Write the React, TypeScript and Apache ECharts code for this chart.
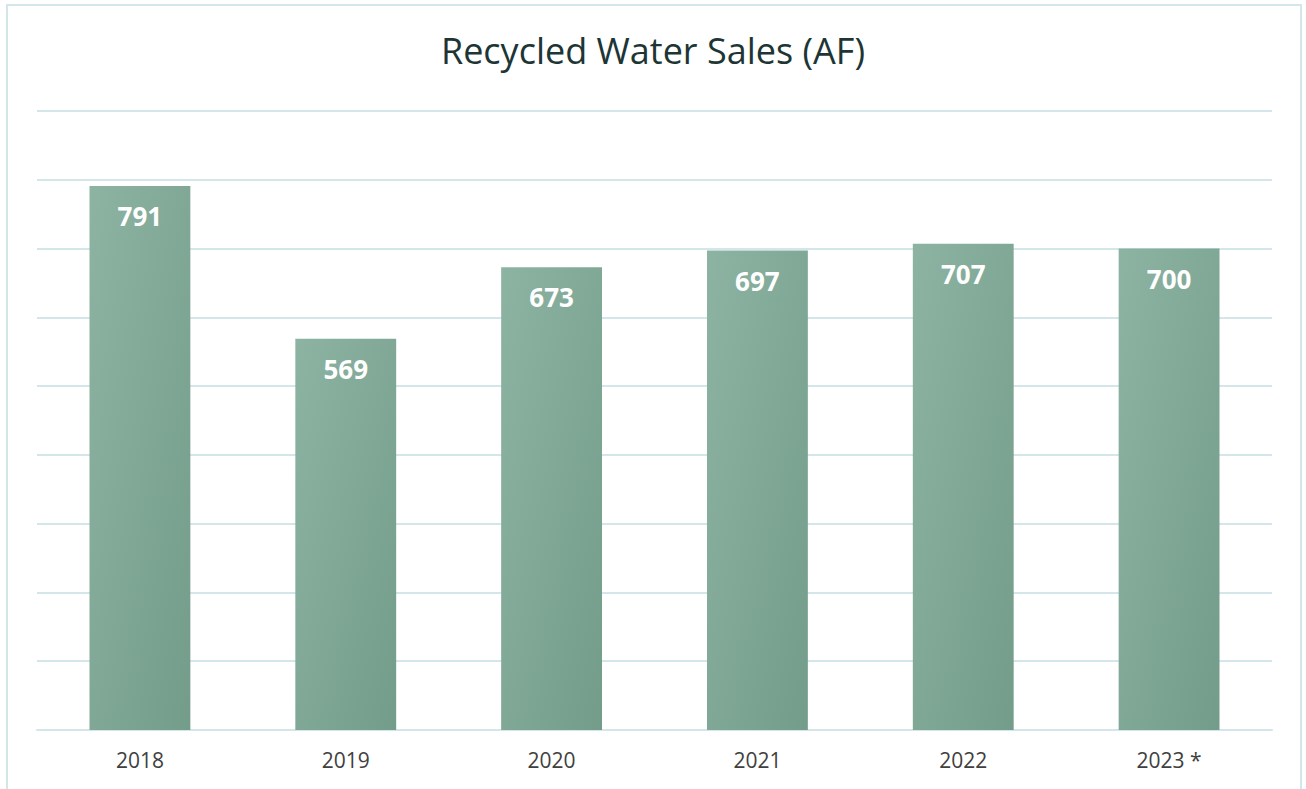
import React, { useEffect, useRef } from "react";
import * as echarts from "echarts";

const categories = ["2018", "2019", "2020", "2021", "2022", "2023 *"];
const sales = [791, 569, 673, 697, 707, 700];
const titleText = "Recycled Water Sales (AF)";

export default function App() {
  const ref = useRef<HTMLDivElement>(null);
  useEffect(() => {
    const chart = echarts.init(ref.current!, null, { renderer: "svg" });
    chart.setOption({
      animation: false,
      backgroundColor: "#ffffff",
      title: {
        text: titleText,
        left: "center",
        top: 27,
        textStyle: { fontFamily: "Open Sans", fontSize: 36, fontWeight: "normal", color: "#1d3535" },
      },
      graphic: [
        {
          type: "rect",
          shape: { x: 7, y: 5, width: 1294, height: 800 },
          style: { fill: "none", stroke: "#d3e6ea", lineWidth: 2 },
          silent: true,
        },
      ],
      grid: { left: 37, right: 34, top: 111, bottom: 59 },
      xAxis: {
        type: "category",
        data: categories,
        axisLine: { lineStyle: { color: "#d3e6ea", width: 2 } },
        axisTick: { show: false },
        axisLabel: { color: "#404040", fontSize: 21, fontFamily: "Open Sans", margin: 19 },
      },
      yAxis: {
        type: "value",
        min: 0,
        max: 900,
        interval: 100,
        axisLabel: { show: false },
        axisLine: { show: false },
        axisTick: { show: false },
        splitLine: { lineStyle: { color: "#d3e6ea", width: 2 } },
      },
      series: [
        {
          type: "bar",
          data: sales,
          barWidth: "49%",
          itemStyle: {
            color: new echarts.graphic.LinearGradient(0, 0, 1, 1, [
              { offset: 0, color: "#8db4a3" },
              { offset: 1, color: "#749c8a" },
            ]),
          },
          label: {
            show: true,
            position: "insideTop",
            distance: 17,
            color: "#ffffff",
            fontSize: 26,
            fontWeight: "bold",
            fontFamily: "Open Sans",
          },
        },
      ],
    });
    return () => chart.dispose();
  }, []);
  return <div ref={ref} style={{ position: "fixed", left: 0, top: 0, width: 1306, height: 789 }} />;
}
